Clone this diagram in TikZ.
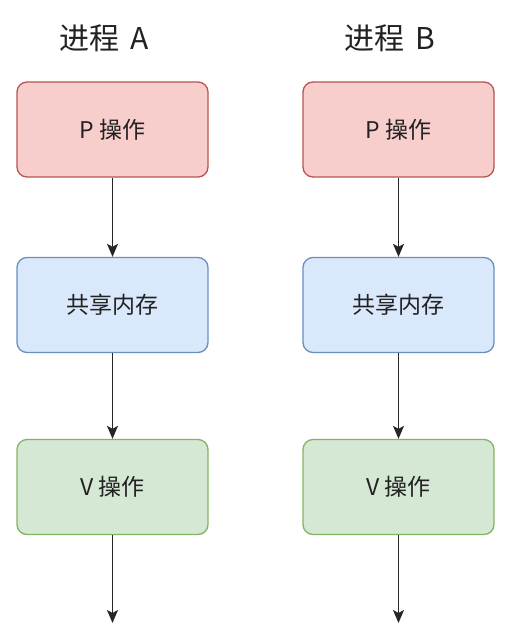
\documentclass[tikz,border=0pt]{standalone}
\usepackage{fontspec}
\setmainfont{Noto Sans CJK SC}
\usetikzlibrary{arrows.meta}
\definecolor{pfill}{HTML}{F8CECC}\definecolor{pdraw}{HTML}{B85450}
\definecolor{sfill}{HTML}{DAE8FC}\definecolor{sdraw}{HTML}{6C8EBF}
\definecolor{vfill}{HTML}{D5E8D4}\definecolor{vdraw}{HTML}{82B366}
\definecolor{txt}{HTML}{222222}
\tikzset{
  box/.style={rounded corners=10pt, minimum width=191pt, minimum height=95pt, line width=1.3pt, font=\fontsize{23}{27}\selectfont, text=txt},
  pbox/.style={box, fill=pfill, draw=pdraw},
  sbox/.style={box, fill=sfill, draw=sdraw},
  vbox/.style={box, fill=vfill, draw=vdraw},
  title/.style={font=\fontsize{30}{35}\selectfont, text=txt},
  conn/.style={line width=1.6pt, draw=black!85, -{Stealth[length=13pt,width=11pt,inset=3pt]}}
}
\begin{document}
\begin{tikzpicture}[x=1pt,y=-1pt]
\useasboundingbox (0,0) rectangle (510,640);
\node[title] (ta) at (104,38) {进程\, A};
\node[title] (tb) at (390,38) {进程\, B};
\node[pbox] (pa) at (112.5,129.5) {P 操作};
\node[sbox] (sa) at (112.5,305) {共享内存};
\node[vbox] (va) at (112.5,487) {V 操作};
\coordinate (ea) at (112.5,623);
\node[pbox] (pb) at (398.5,129.5) {P 操作};
\node[sbox] (sb) at (398.5,305) {共享内存};
\node[vbox] (vb) at (398.5,487) {V 操作};
\coordinate (eb) at (398.5,623);
\draw[conn] (pa) -- (sa);
\draw[conn] (sa) -- (va);
\draw[conn] (va) -- (ea);
\draw[conn] (pb) -- (sb);
\draw[conn] (sb) -- (vb);
\draw[conn] (vb) -- (eb);
\end{tikzpicture}
\end{document}
